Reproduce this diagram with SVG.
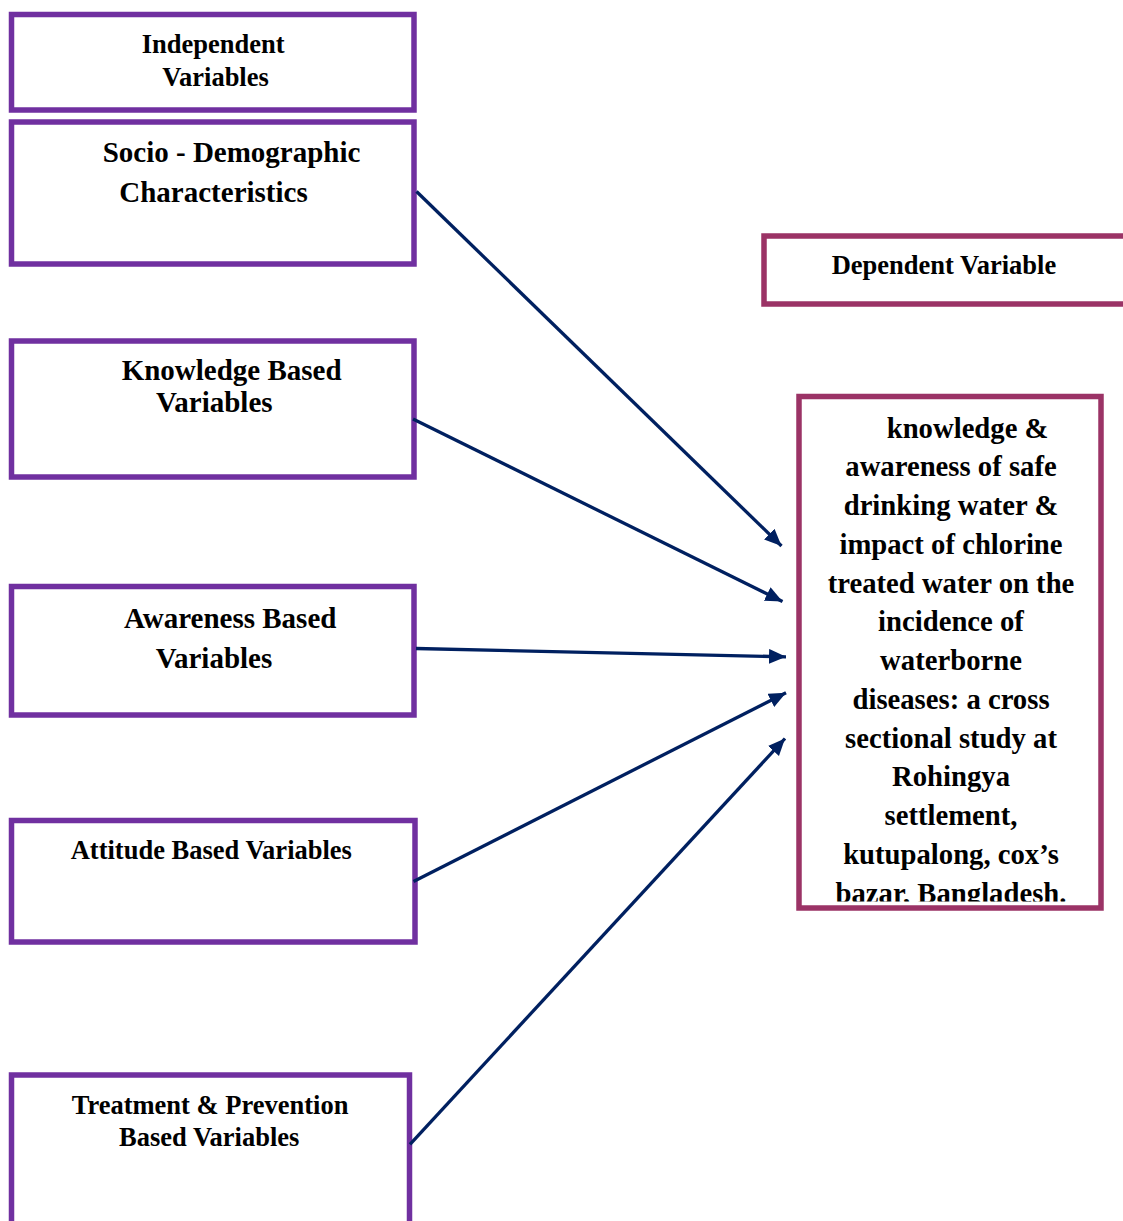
<svg xmlns="http://www.w3.org/2000/svg" width="1123" height="1221" viewBox="0 0 1123 1221">
<style>
.ind{fill:#ffffff;stroke:#7030A0;stroke-width:5.5}
.dep{fill:#ffffff;stroke:#9B3366;stroke-width:5.5}
text{font-family:"Liberation Serif","Times New Roman",serif;font-weight:bold;fill:#000000}
.s26{font-size:26.5px}
.s29{font-size:29px}
.m{font-size:28.7px;text-anchor:middle}
.conn{stroke:#002060;stroke-width:3.3;fill:none}
</style>
<defs>
<marker id="ah" markerUnits="userSpaceOnUse" markerWidth="19" markerHeight="16" refX="17" refY="7.5" orient="auto">
<path d="M0,0 L17,7.5 L0,15 z" fill="#002060"/>
</marker>
<clipPath id="clipDep"><rect x="801" y="399" width="297" height="502.5"/></clipPath>
</defs>

<g id="independent-header">
<rect class="ind" x="11.5" y="14.5" width="402.5" height="95.5"/>
<text class="s26" x="141.7" y="53">Independent</text>
<text class="s26" x="162.3" y="85.5">Variables</text>
</g>

<g id="socio-demographic">
<rect class="ind" x="11.5" y="122" width="402.5" height="142"/>
<text class="s29" x="102.7" y="161.5">Socio - Demographic</text>
<text class="s29" x="119.3" y="202">Characteristics</text>
</g>

<g id="knowledge">
<rect class="ind" x="11.5" y="341" width="402.5" height="136"/>
<text class="s29" x="121.7" y="380">Knowledge Based</text>
<text class="s29" x="156" y="412">Variables</text>
</g>

<g id="awareness">
<rect class="ind" x="11.5" y="586.5" width="402.5" height="128.5"/>
<text class="s29" x="124" y="628">Awareness Based</text>
<text class="s29" x="155.7" y="668.3">Variables</text>
</g>

<g id="attitude">
<rect class="ind" x="11.5" y="820.5" width="403.5" height="121.5"/>
<text class="s26" x="70.7" y="859.3">Attitude Based Variables</text>
</g>

<g id="treatment">
<rect class="ind" x="11.5" y="1075" width="398" height="160"/>
<text class="s26" x="71.7" y="1113.5">Treatment &amp; Prevention</text>
<text class="s26" x="119" y="1146">Based Variables</text>
</g>

<g id="dependent-header">
<rect class="dep" x="764" y="236" width="380" height="68"/>
<text class="s26" x="831.7" y="274.3">Dependent Variable</text>
</g>

<g id="dependent">
<rect class="dep" x="799" y="396.5" width="302" height="511.5"/>
<g clip-path="url(#clipDep)">
<text class="m" style="text-anchor:start" x="886.7" y="437.5">knowledge &amp;</text>
<text class="m" x="951" y="476.3">awareness of safe</text>
<text class="m" x="951" y="515">drinking water &amp;</text>
<text class="m" x="951" y="553.8">impact of chlorine</text>
<text class="m" x="951" y="592.5">treated water on the</text>
<text class="m" x="951" y="631.3">incidence of</text>
<text class="m" x="951" y="670">waterborne</text>
<text class="m" x="951" y="708.8">diseases: a cross</text>
<text class="m" x="951" y="747.5">sectional study at</text>
<text class="m" x="951" y="786.3">Rohingya</text>
<text class="m" x="951" y="825">settlement,</text>
<text class="m" x="951" y="863.8">kutupalong, cox’s</text>
<text class="m" x="951" y="902.5">bazar, Bangladesh.</text>
</g>
</g>

<g id="connectors">
<line class="conn" x1="416.5" y1="191.5" x2="781.5" y2="546" marker-end="url(#ah)"/>
<line class="conn" x1="413" y1="419" x2="782.5" y2="601.5" marker-end="url(#ah)"/>
<line class="conn" x1="416" y1="648.5" x2="786" y2="656.8" marker-end="url(#ah)"/>
<line class="conn" x1="413.5" y1="881.5" x2="786" y2="692.7" marker-end="url(#ah)"/>
<line class="conn" x1="410" y1="1144.3" x2="785" y2="738.5" marker-end="url(#ah)"/>
</g>
</svg>
